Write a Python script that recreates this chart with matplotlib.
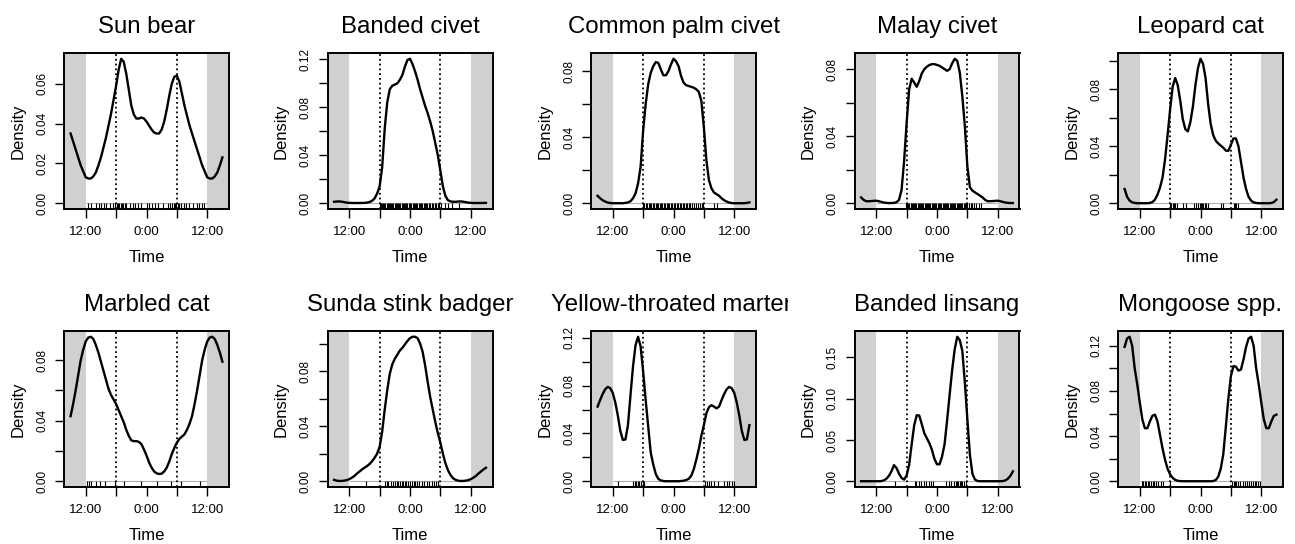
import numpy as np
import matplotlib
matplotlib.use("Agg")
import matplotlib.pyplot as plt
from matplotlib.transforms import Bbox, TransformedBbox

plt.rcParams['font.family'] = ['Liberation Sans', 'DejaVu Sans']

# 종 이름 (패널 순서)
species = ["Sun bear", "Banded civet", "Common palm civet", "Malay civet", "Leopard cat",
           "Marbled cat", "Sunda stink badger", "Yellow-throated marten", "Banded linsang",
           "Mongoose spp."]

# 밀도 값: -12h(정오) 부터 11.5h 까지 30분 간격, 자정 = 0
hours = np.arange(-12, 12, 0.5)

sun_bear = [0.0130, 0.0124, 0.0124, 0.0135, 0.0155, 0.019, 0.023, 0.028, 0.033, 0.039,
            0.045, 0.052, 0.059, 0.067, 0.0725, 0.071, 0.065, 0.057, 0.049, 0.0445,
            0.0425, 0.0425, 0.043, 0.0425, 0.041, 0.039, 0.037, 0.0355, 0.035, 0.035,
            0.037, 0.041, 0.047, 0.054, 0.060, 0.0635, 0.064, 0.061, 0.055, 0.049,
            0.044, 0.039, 0.035, 0.031, 0.027, 0.023, 0.019, 0.016]
banded_civet = [0.0003, 0.0002, 0.0002, 0.0002, 0.0002, 0.0002, 0.0003, 0.0005, 0.001, 0.002,
                0.004, 0.008, 0.014, 0.030, 0.062, 0.084, 0.095, 0.098, 0.099, 0.100,
                0.103, 0.107, 0.114, 0.1195, 0.1205, 0.116, 0.110, 0.103, 0.095, 0.088,
                0.081, 0.075, 0.068, 0.060, 0.050, 0.040, 0.027, 0.014, 0.006, 0.0025,
                0.0015, 0.0012, 0.0012, 0.0014, 0.0015, 0.0013, 0.0009, 0.0005]
palm_civet = [0, 0, 0, 0, 0, 0.0002, 0.0005, 0.0012, 0.003, 0.006,
              0.012, 0.022, 0.044, 0.060, 0.072, 0.079, 0.083, 0.0855, 0.085, 0.081,
              0.0775, 0.0775, 0.080, 0.084, 0.0875, 0.086, 0.083, 0.077, 0.073, 0.0715,
              0.071, 0.0705, 0.070, 0.069, 0.0675, 0.062, 0.046, 0.026, 0.014, 0.009,
              0.0065, 0.0055, 0.0045, 0.003, 0.0018, 0.001, 0.0004, 0.0001]
malay_civet = [0.0015, 0.0012, 0.0008, 0.0004, 0.0002, 0.0001, 0.0001, 0.0002, 0.0006, 0.002,
               0.008, 0.025, 0.048, 0.068, 0.0743, 0.072, 0.0695, 0.073, 0.0775, 0.080,
               0.0815, 0.0825, 0.083, 0.083, 0.0825, 0.082, 0.081, 0.080, 0.079, 0.080,
               0.0835, 0.0862, 0.085, 0.078, 0.064, 0.046, 0.022, 0.0095, 0.0075, 0.0065,
               0.0055, 0.0045, 0.0035, 0.002, 0.0012, 0.0012, 0.0013, 0.0014]
leopard_cat = [0, 0, 0, 0, 0.0002, 0.0008, 0.0025, 0.006, 0.011, 0.018,
               0.031, 0.048, 0.066, 0.082, 0.088, 0.083, 0.072, 0.059, 0.052, 0.0505,
               0.057, 0.068, 0.083, 0.095, 0.1015, 0.098, 0.088, 0.070, 0.056, 0.048,
               0.044, 0.042, 0.0405, 0.039, 0.037, 0.0368, 0.041, 0.0455, 0.0455, 0.040,
               0.029, 0.018, 0.010, 0.0045, 0.0018, 0.0006, 0.0002, 0.0]
marbled_cat = [0.0925, 0.095, 0.0955, 0.094, 0.090, 0.085, 0.079, 0.073, 0.067, 0.061,
               0.057, 0.054, 0.051, 0.047, 0.043, 0.039, 0.034, 0.030, 0.027, 0.0265,
               0.0265, 0.026, 0.0245, 0.021, 0.017, 0.0125, 0.009, 0.0065, 0.0052, 0.0048,
               0.005, 0.0065, 0.009, 0.013, 0.018, 0.022, 0.0255, 0.028, 0.0295, 0.031,
               0.034, 0.038, 0.043, 0.051, 0.060, 0.070, 0.080, 0.087]
stink_badger = [0.0015, 0.0025, 0.0038, 0.0055, 0.007, 0.0085, 0.0098, 0.011, 0.0125, 0.0145,
                0.017, 0.020, 0.025, 0.036, 0.052, 0.066, 0.078, 0.085, 0.089, 0.092,
                0.095, 0.097, 0.0995, 0.102, 0.104, 0.105, 0.105, 0.104, 0.100, 0.094,
                0.084, 0.072, 0.061, 0.052, 0.043, 0.035, 0.028, 0.020, 0.013, 0.008,
                0.0045, 0.0022, 0.001, 0.0004, 0.0002, 0.0002, 0.0004, 0.0008]
marten = [0.074, 0.066, 0.055, 0.042, 0.0345, 0.035, 0.047, 0.072, 0.096, 0.114,
          0.121, 0.113, 0.092, 0.068, 0.046, 0.024, 0.014, 0.006, 0.002, 0.0006,
          0.0002, 0, 0, 0, 0, 0, 0, 0.0002, 0.0004, 0.001,
          0.002, 0.0045, 0.010, 0.018, 0.027, 0.038, 0.047, 0.057, 0.062, 0.0637,
          0.0625, 0.061, 0.0625, 0.068, 0.073, 0.077, 0.079, 0.078]
linsang = [0, 0, 0.0002, 0.001, 0.003, 0.0065, 0.012, 0.0195, 0.016, 0.009,
           0.004, 0.002, 0.007, 0.020, 0.045, 0.068, 0.080, 0.0795, 0.069, 0.058,
           0.052, 0.046, 0.038, 0.027, 0.0205, 0.0205, 0.030, 0.045, 0.074, 0.105,
           0.135, 0.160, 0.175, 0.171, 0.158, 0.120, 0.075, 0.032, 0.009, 0.002,
           0.0003, 0, 0, 0, 0, 0, 0, 0]
mongoose = [0.070, 0.055, 0.047, 0.047, 0.053, 0.058, 0.059, 0.053, 0.041, 0.029,
            0.019, 0.011, 0.006, 0.003, 0.0012, 0.0004, 0.0001, 0, 0, 0,
            0, 0, 0, 0, 0, 0, 0, 0, 0, 0.0002,
            0.001, 0.004, 0.011, 0.024, 0.048, 0.073, 0.093, 0.102, 0.1015, 0.098,
            0.099, 0.108, 0.119, 0.1265, 0.128, 0.120, 0.100, 0.086]

densities = [sun_bear, banded_civet, palm_civet, malay_civet, leopard_cat,
             marbled_cat, stink_badger, marten, linsang, mongoose]

# 러그 (관측 시각, 자정 기준 시간)
sun_bear_rug = [-11.5, -11.0, -9.9, -9.4, -8.9, -8.4, -8.0, -7.3, -6.7, -6.2, -5.9, -5.6, -5.4,
                -5.1, -4.9, -4.6, -4.3, -4.0, -3.2, -2.6, -2.3, -1.6, -1.0, 0.0, 0.5, 1.1, 1.6,
                2.3, 3.3, 4.3, 4.7, 5.1, 5.4, 5.7, 5.9, 6.2, 6.5, 6.9, 7.4, 7.9, 8.4, 9.2, 9.9,
                10.4, 10.9, 11.3]
banded_civet_rug = [-6.0, -5.8, -5.5, -5.3, -5.1, -4.9, -4.6, -4.4, -4.2, -4.0, -3.7, -3.5, -3.3,
                    -3.0, -2.8, -2.6, -2.3, -2.1, -1.9, -1.6, -1.4, -1.2, -0.9, -0.7, -0.5, -0.2,
                    0.0, 0.2, 0.5, 0.7, 0.9, 1.2, 1.4, 1.7, 1.9, 2.2, 2.4, 2.7, 2.9, 3.2, 3.4,
                    3.7, 4.0, 4.3, 4.6, 4.9, 5.2, 5.5, 5.8, 6.1, 7.0, 7.6, 8.3, 9.6]
palm_civet_rug = [-6.1, -5.8, -5.5, -5.2, -4.9, -4.6, -4.4, -4.1, -3.8, -3.5, -3.3, -3.0, -2.7,
                  -2.4, -2.2, -1.9, -1.6, -1.3, -1.1, -0.8, -0.5, -0.2, 0.0, 0.3, 0.6, 0.9, 1.2,
                  1.5, 1.8, 2.1, 2.4, 2.7, 3.0, 3.3, 3.7, 4.0, 4.4, 4.8, 5.2, 5.6, 5.9, 8.1, 8.6]
malay_civet_rug = [-6.1, -5.9, -5.7, -5.5, -5.2, -5.0, -4.8, -4.5, -4.3, -4.1, -3.8, -3.6, -3.4,
                   -3.1, -2.9, -2.7, -2.4, -2.2, -2.0, -1.7, -1.5, -1.3, -1.0, -0.8, -0.6, -0.3,
                   -0.1, 0.1, 0.4, 0.6, 0.8, 1.1, 1.3, 1.5, 1.8, 2.0, 2.2, 2.5, 2.7, 2.9, 3.2,
                   3.4, 3.6, 3.9, 4.1, 4.3, 4.6, 4.8, 5.0, 5.3, 5.5, 5.7, 6.0, 6.3, 6.7, 7.0,
                   7.4, 7.8, 8.2, 8.6]
leopard_cat_rug = [-6.1, -5.8, -5.5, -5.3, -5.0, -4.6, -3.5, -2.8, -1.3, -0.9, -0.4, -0.1, 0.1,
                   0.3, 0.5, 0.8, 1.1, 1.45, 4.1, 4.4, 6.6, 6.8, 7.1, 7.5]
marbled_cat_rug = [-11.7, -11.3, -10.9, -9.9, -9.2, -8.2, -6.3, -4.5, -1.0, 2.0, 4.9, 6.9, 10.5]
stink_badger_rug = [-8.7, -4.9, -4.6, -4.3, -3.8, -3.4, -3.0, -2.6, -2.3, -2.0, -1.6, -1.3, -1.0,
                    -0.7, -0.3, 0.0, 0.3, 0.7, 1.05, 1.45, 1.85, 2.3, 2.75, 3.3, 3.8, 4.3, 4.75,
                    5.1, 5.6]
marten_rug = [-11.0, -8.1, -7.7, -7.4, -7.1, -6.8, -6.4, -6.1, -5.8, 6.2, 6.6, 7.0, 7.5, 8.0,
              8.7, 10.0, 10.5, 11.0, 11.5, 11.9]
linsang_rug = [-8.2, -4.4, -4.1, -3.6, -3.1, -2.6, -2.1, -1.6, -1.1, -0.7, 1.8, 2.4, 2.8, 3.3,
               3.7, 3.9, 4.2, 4.5, 4.8, 5.0, 5.3, 5.7]
mongoose_rug = [-11.6, -11.3, -11.05, -10.7, -10.4, -10.1, -9.7, -9.4, -9.1, -8.8, -8.3, -7.9,
                -7.4, -6.1, 6.2, 6.6, 6.8, 7.1, 7.5, 7.9, 8.4, 8.7, 9.1, 9.5, 9.9, 10.3, 10.7,
                11.0, 11.4, 11.8]

rugs = [sun_bear_rug, banded_civet_rug, palm_civet_rug, malay_civet_rug, leopard_cat_rug,
        marbled_cat_rug, stink_badger_rug, marten_rug, linsang_rug, mongoose_rug]

# y 눈금 간격 / 라벨 표시 간격
ytick_step = [0.02, 0.02, 0.02, 0.02, 0.02, 0.02, 0.02, 0.02, 0.05, 0.02]
ylabel_every = [1, 2, 2, 2, 2, 2, 2, 2, 1, 2]

xtick_hours = [-12, -6, 0, 6, 12]
xtick_labels = ["12:00", "", "0:00", "", "12:00"]

W, H = 1295, 544
fig = plt.figure(figsize=(W / 100, H / 100), dpi=100)
col_w = 263.5
xlo, xhi = -16.3, 16.3

for i, name in enumerate(species):
    row, col = divmod(i, 5)
    left = 64 + col * col_w
    top = 53 + row * 278
    ax = fig.add_axes([left / W, (H - top - 156) / H, 165 / W, 156 / H])

    d = np.array(densities[i])
    # 24시간 주기로 양쪽 연장 (-15h ~ 15h)
    xs = np.concatenate([hours[hours >= 9] - 24, hours, hours[hours <= -9] + 24])
    ys = np.concatenate([d[hours >= 9], d, d[hours <= -9]])
    ymax = d.max()
    ylo, yhi = -0.04 * ymax, 1.04 * ymax

    ax.axvspan(xlo, -12, color='#d0d0d0', lw=0)
    ax.axvspan(12, xhi, color='#d0d0d0', lw=0)
    ax.hlines(0, -12, 12, color='#b0b0b0', lw=0.8)
    ax.vlines(rugs[i], ylo, 0, color='black', lw=0.8)
    ax.axvline(-6, ls=':', color='black', lw=1.3)
    ax.axvline(6, ls=':', color='black', lw=1.3)
    ax.plot(xs, ys, color='black', lw=1.7)

    ax.set_xlim(xlo, xhi)
    ax.set_ylim(ylo, yhi)

    ax.set_xticks(xtick_hours)
    ax.set_xticklabels(xtick_labels)
    step = ytick_step[i]
    yt = np.arange(0, ymax + 1e-9, step)
    ax.set_yticks(yt)
    ax.set_yticklabels([f"{v:.2f}" if k % ylabel_every[i] == 0 else "" for k, v in enumerate(yt)],
                       rotation=90, va='center')
    ax.tick_params(direction='out', length=6.5, width=1.0, color='black')
    ax.tick_params(axis='x', pad=6, labelsize=9.5)
    ax.tick_params(axis='y', pad=5, labelsize=8.5)
    for s in ax.spines.values():
        s.set_linewidth(1.4)

    ax.set_xlabel("Time", fontsize=12)
    ax.xaxis.set_label_coords(0.5, -48 / 156)
    ax.xaxis.label.set_va('center')
    ax.set_ylabel("Density", fontsize=12)
    ax.yaxis.set_label_coords(-46 / 165, 0.5)
    ax.yaxis.label.set_va('center')

    # 제목 (패널 영역 밖은 잘림)
    base = 33 + row * 278
    t = fig.text((left + 82.5) / W, (H - base) / H, name, ha='center', va='baseline', fontsize=17.3)
    clip = Bbox.from_extents(col * col_w / W, 0, ((col + 1) * col_w - 3) / W, 1)
    t.set_clip_box(TransformedBbox(clip, fig.transFigure))
    t.set_clip_on(True)

fig.savefig("out.png", dpi=100)
